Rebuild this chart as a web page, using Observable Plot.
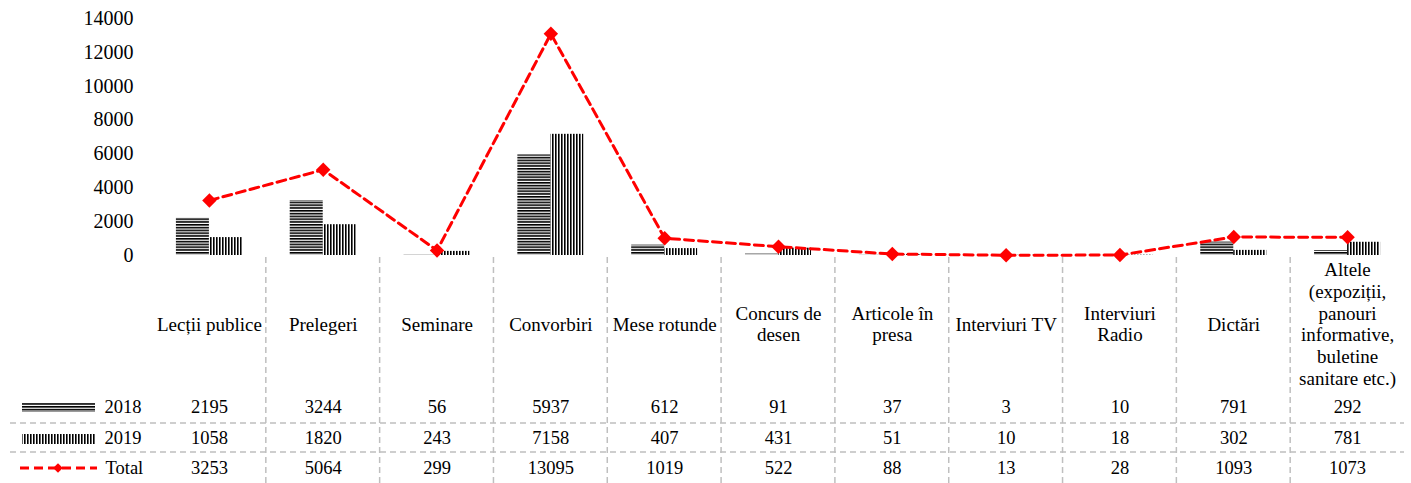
<!DOCTYPE html>
<html><head><meta charset="utf-8">
<script src="https://cdn.jsdelivr.net/npm/d3@7"></script>
<script src="https://cdn.jsdelivr.net/npm/@observablehq/plot@0.6"></script>
<style>body{margin:0;background:#fff} #chart svg{display:block}</style>
</head><body><div id="chart"></div>
<script>
const categories = ["Lecții publice", "Prelegeri", "Seminare", "Convorbiri", "Mese rotunde", "Concurs de desen", "Articole în presa", "Interviuri TV", "Interviuri Radio", "Dictări", "Altele (expoziții, panouri informative, buletine sanitare etc.)"];
const categoryLabels = ["Lecții publice", "Prelegeri", "Seminare", "Convorbiri", "Mese rotunde", "Concurs de\ndesen", "Articole în\npresa", "Interviuri TV", "Interviuri\nRadio", "Dictări", "Altele\n(expoziții,\npanouri\ninformative,\nbuletine\nsanitare etc.)"];
const seriesNames = ["2018", "2019", "Total"];
const values2018 = [2195, 3244, 56, 5937, 612, 91, 37, 3, 10, 791, 292];
const values2019 = [1058, 1820, 243, 7158, 407, 431, 51, 10, 18, 302, 781];
const valuesTotal = [3253, 5064, 299, 13095, 1019, 522, 88, 13, 28, 1093, 1073];
const yTicks = [0, 2000, 4000, 6000, 8000, 10000, 12000, 14000];

const W = 1411, H = 483, mL = 152, mR = 7, mT = 18, mB = 228;
const bw = (W - mL - mR) / categories.length;
const font = "'Liberation Serif','Times New Roman',serif";
const rows = categories.map((c, i) => ({cat: c, label: categoryLabels[i], v2018: values2018[i], v2019: values2019[i], total: valuesTotal[i]}));
const numFs = 18.5;
const labFs = 19;
const lh = 21.8;

// category label lines, one text mark per (line count, line index)
const labelLines = rows.flatMap(r => {
  const ls = r.label.split("\n");
  return ls.map((t, k) => ({cat: r.cat, text: t, n: ls.length, k}));
});
const groups = d3.groups(labelLines, d => d.n + "_" + d.k);
const labelMarks = groups.map(([key, arr]) => {
  const {n, k} = arr[0];
  return Plot.text(arr, {x: "cat", text: "text", frameAnchor: "bottom", dy: 75 - (n - 1) / 2 * lh + k * lh, fontSize: labFs, fill: "#000"});
});

const chart = Plot.plot({
  width: W, height: H, marginLeft: mL, marginRight: mR, marginTop: mT, marginBottom: mB,
  style: {fontFamily: font, fontSize: "20px", color: "#000", background: "#fff", overflow: "visible"},
  x: {domain: categories, padding: 0, round: false, axis: null},
  y: {domain: [0, 14000], ticks: yTicks, tickSize: 0, tickPadding: 19, label: null, tickFormat: "d"},
  marks: [
    Plot.barY(rows, {x: "cat", y: "v2018", fill: "url(#hstripe)", insetLeft: bw * 0.21, insetRight: bw / 2}),
    Plot.barY(rows, {x: "cat", y: "v2019", fill: "url(#vstripe)", insetLeft: bw / 2, insetRight: bw * 0.21}),
    Plot.line(rows, {x: "cat", y: "total", stroke: "#ff0000", strokeWidth: 3, strokeDasharray: "9,5"}),
    Plot.dot(rows, {x: "cat", y: "total", symbol: "diamond2", r: 6.5, fill: "#ff0000", stroke: "none"}),
    ...labelMarks,
    Plot.text(rows, {x: "cat", text: d => String(d.v2018), frameAnchor: "bottom", dy: 157, fontSize: numFs, fill: "#000"}),
    Plot.text(rows, {x: "cat", text: d => String(d.v2019), frameAnchor: "bottom", dy: 188, fontSize: numFs, fill: "#000"}),
    Plot.text(rows, {x: "cat", text: d => String(d.total), frameAnchor: "bottom", dy: 218, fontSize: numFs, fill: "#000"}),
    Plot.text([seriesNames[0]], {text: d => d, frameAnchor: "bottom-left", dx: -48, dy: 157, textAnchor: "start", fontSize: numFs, fill: "#000"}),
    Plot.text([seriesNames[1]], {text: d => d, frameAnchor: "bottom-left", dx: -48, dy: 188, textAnchor: "start", fontSize: numFs, fill: "#000"}),
    Plot.text([seriesNames[2]], {text: d => d, frameAnchor: "bottom-left", dx: -47, dy: 218, textAnchor: "start", fontSize: numFs, fill: "#000"})
  ]
});

const svg = d3.select(chart);
const defs = svg.insert("defs", ":first-child");
const ph = defs.append("pattern").attr("id", "hstripe").attr("patternUnits", "userSpaceOnUse").attr("width", 6).attr("height", 2.8);
ph.append("rect").attr("width", 6).attr("height", 2.8).attr("fill", "#fff");
ph.append("rect").attr("width", 6).attr("height", 1.6).attr("fill", "#000");
const pv = defs.append("pattern").attr("id", "vstripe").attr("patternUnits", "userSpaceOnUse").attr("width", 3).attr("height", 6);
pv.append("rect").attr("width", 3).attr("height", 6).attr("fill", "#fff");
pv.append("rect").attr("width", 1.6).attr("height", 6).attr("fill", "#000");

const xs = chart.scale("x");
const grid = svg.append("g").attr("stroke", "#bfbfbf").attr("stroke-width", 1.5).attr("stroke-dasharray", "6,4").attr("fill", "none");
categories.slice(1).forEach(c => {
  const x = xs.apply(c);
  grid.append("line").attr("x1", x).attr("x2", x).attr("y1", H - mB + 2).attr("y2", H);
});
[423, 452].forEach(y => grid.append("line").attr("x1", 10).attr("x2", W - 7).attr("y1", y).attr("y2", y));

const lg = svg.append("g");
lg.append("rect").attr("x", 22).attr("y", 403).attr("width", 73).attr("height", 9).attr("fill", "url(#hstripe)");
lg.append("rect").attr("x", 22).attr("y", 434).attr("width", 73).attr("height", 10).attr("fill", "url(#vstripe)");
lg.append("line").attr("x1", 20).attr("x2", 97).attr("y1", 468).attr("y2", 468).attr("stroke", "#ff0000").attr("stroke-width", 3).attr("stroke-dasharray", "9,5");
lg.append("path").attr("d", d3.symbol(d3.symbolDiamond2, 60)()).attr("transform", "translate(58,468)").attr("fill", "#ff0000");

document.getElementById("chart").appendChild(chart);
</script>
</body></html>
